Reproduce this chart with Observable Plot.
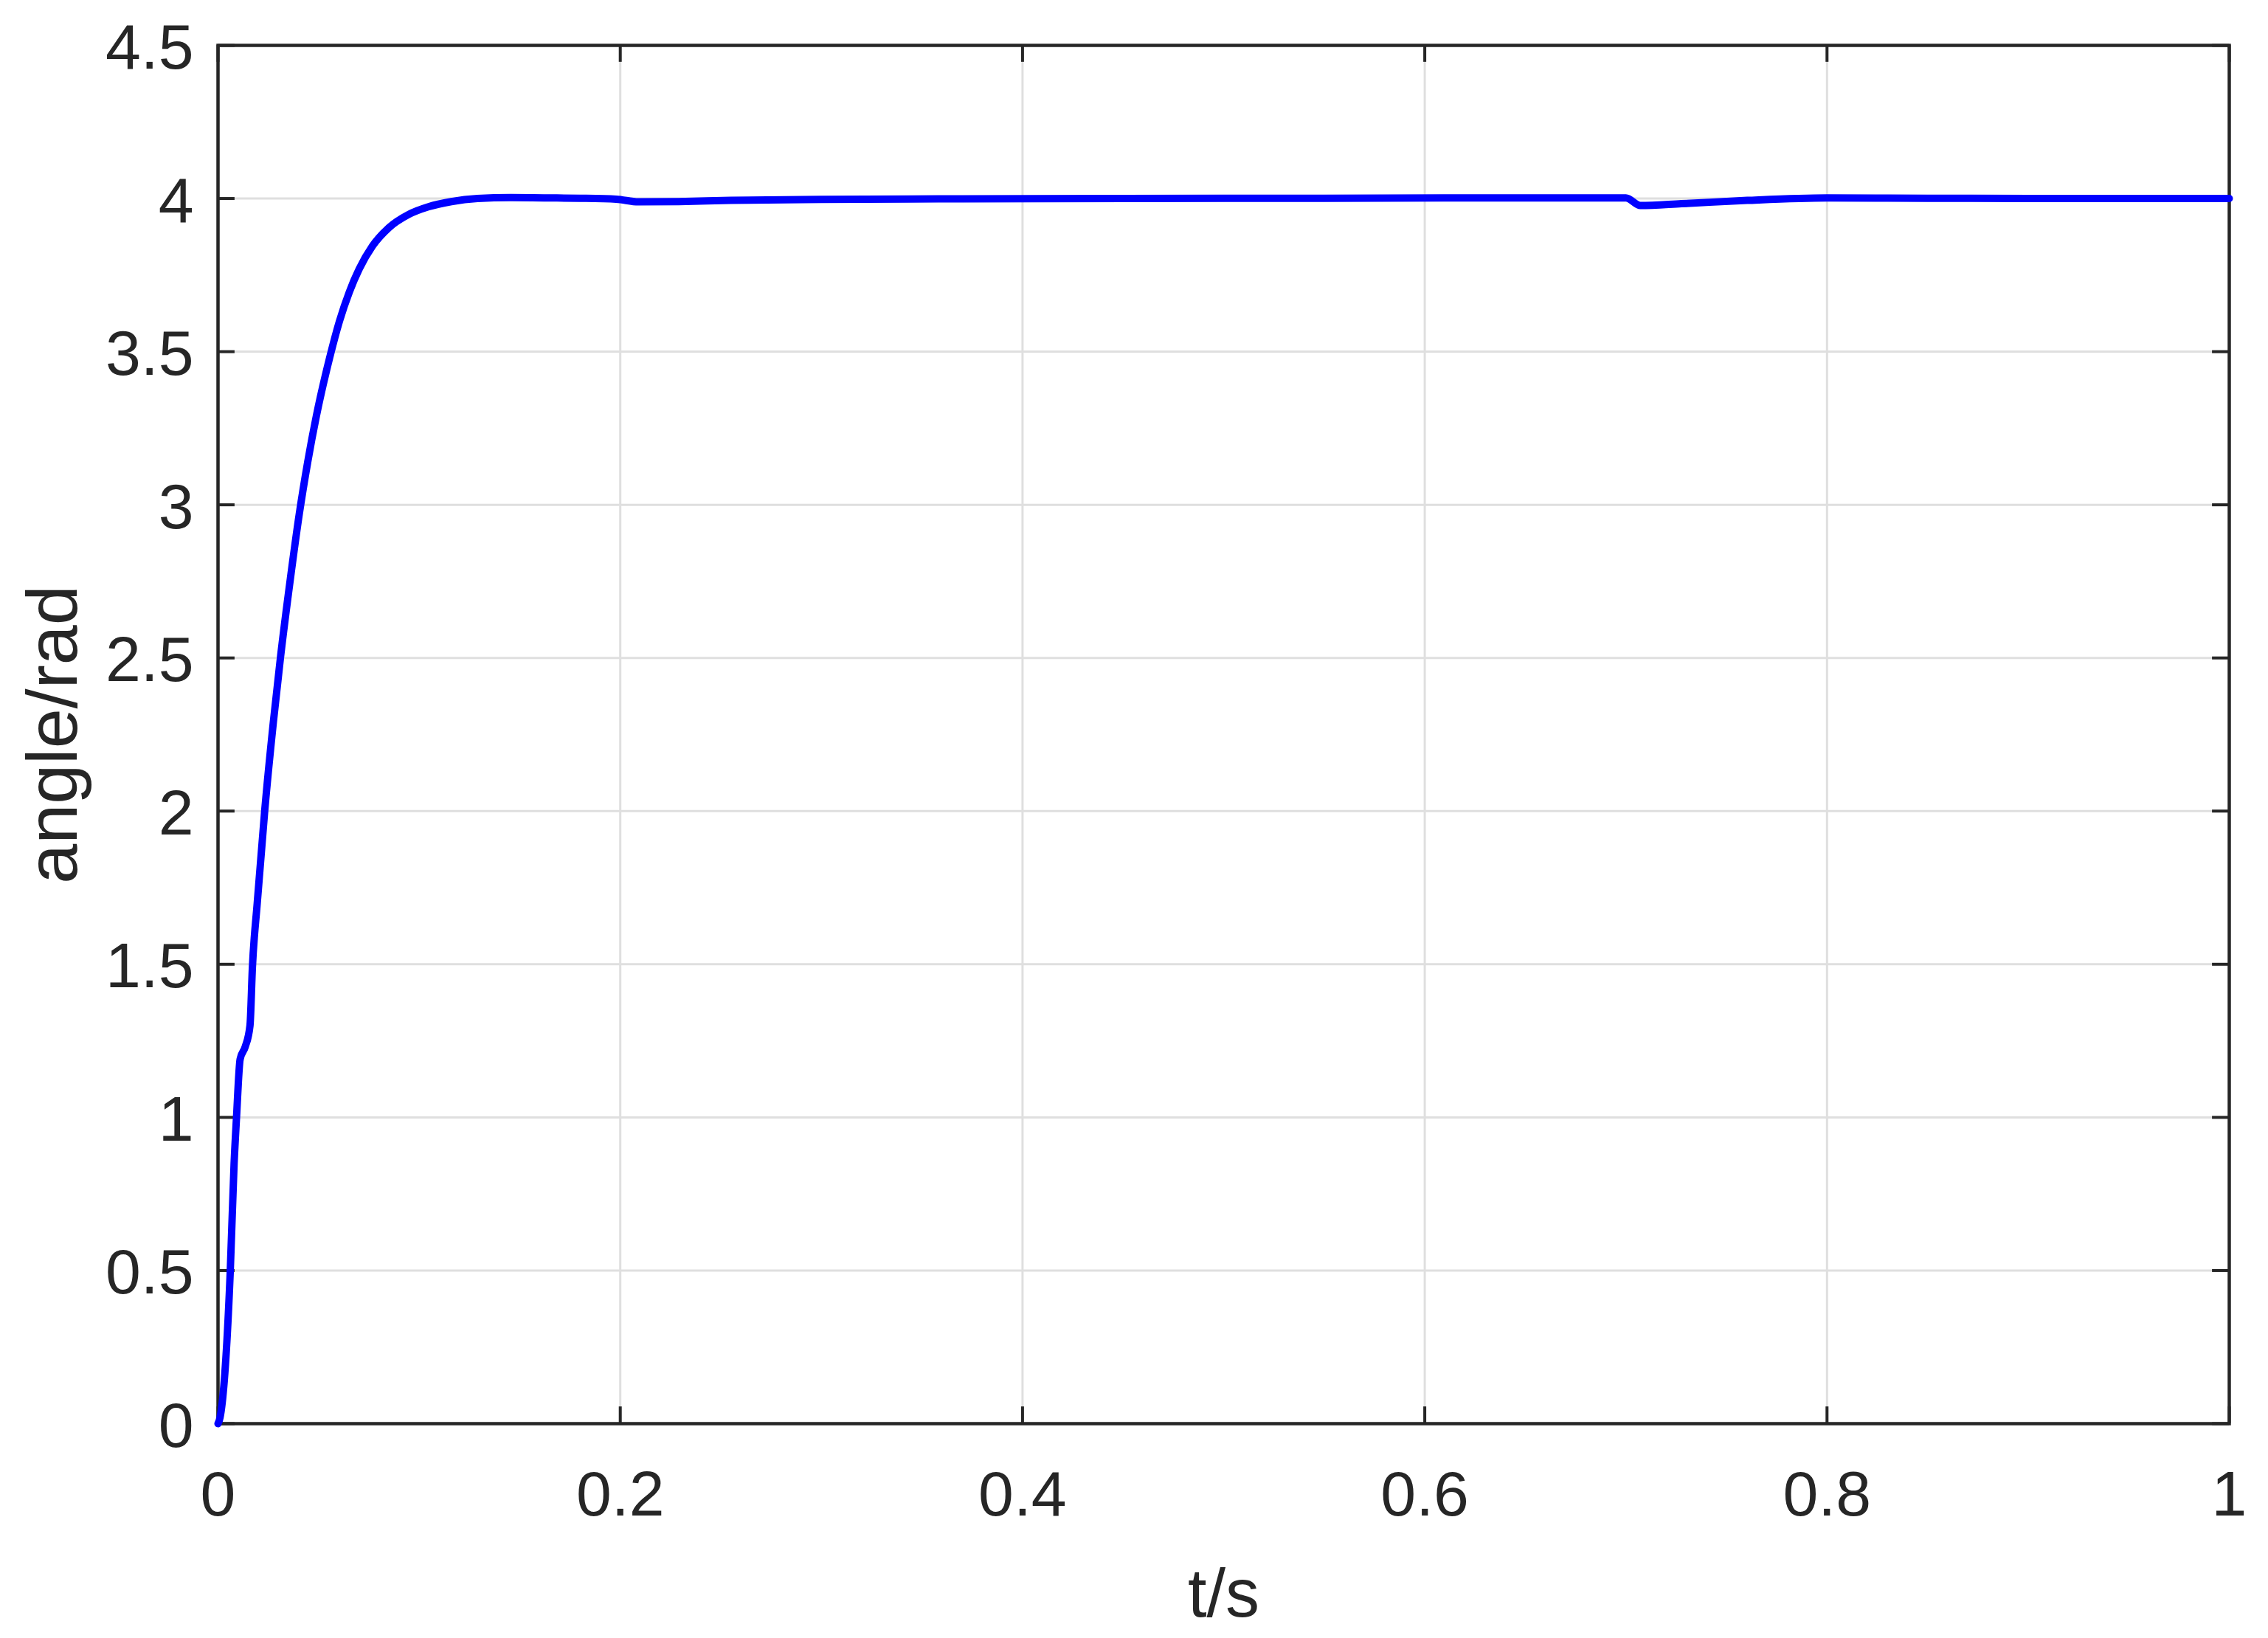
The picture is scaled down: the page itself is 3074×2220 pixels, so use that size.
<!DOCTYPE html>
<html><head><meta charset="utf-8">
<script src="https://cdn.jsdelivr.net/npm/d3@7"></script>
<script src="https://cdn.jsdelivr.net/npm/@observablehq/plot@0.6"></script>
<style>html,body{margin:0;padding:0;background:#fff;} svg{display:block}</style>
</head><body><div id="chart"></div>
<script>
const timeS = [0, 0.001, 0.0061, 0.008, 0.0092, 0.011, 0.0135, 0.0159, 0.0171, 0.0195, 0.0232, 0.0275, 0.0312, 0.036, 0.0404, 0.0446, 0.0489, 0.0555, 0.0604, 0.0653, 0.0702, 0.0768, 0.085, 0.0948, 0.1046, 0.116, 0.129, 0.1456, 0.162, 0.18, 0.198, 0.209, 0.229, 0.255, 0.30, 0.37, 0.45, 0.55, 0.65, 0.70, 0.7072, 0.7277, 0.7604, 0.80, 0.85, 0.90, 1.0];
const angleRad = [0, 0.02, 0.5, 0.85, 1.0, 1.19, 1.23, 1.30, 1.49, 1.70, 2.0, 2.29, 2.51, 2.76, 2.97, 3.14, 3.29, 3.48, 3.60, 3.695, 3.77, 3.845, 3.905, 3.948, 3.973, 3.99, 4.0, 4.003, 4.002, 4.001, 3.998, 3.989, 3.99, 3.994, 3.997, 3.999, 4.0, 4.001, 4.002, 4.002, 3.977, 3.983, 3.994, 4.002, 4.001, 4.0, 4.0];
const xTicks = [0, 0.2, 0.4, 0.6, 0.8, 1];
const yTicks = [0, 0.5, 1, 1.5, 2, 2.5, 3, 3.5, 4, 4.5];
const xLabel = "t/s";
const yLabel = "angle/rad";

const data = timeS.map((t, i) => ({t, v: angleRad[i]}));
const axisColor = "#262626";
const gridColor = "#dfdfdf";

const chart = Plot.plot({
  width: 3074, height: 2220,
  marginLeft: 295, marginRight: 53, marginTop: 61, marginBottom: 291,
  style: {fontFamily: "'Liberation Sans', Arial, sans-serif", color: axisColor, background: "#fff"},
  x: {domain: [0, 1]},
  y: {domain: [0, 4.5]},
  marks: [
    Plot.ruleX(xTicks, {stroke: gridColor, strokeWidth: 3}),
    Plot.ruleY(yTicks, {stroke: gridColor, strokeWidth: 3}),
    Plot.ruleX(xTicks, {x: d => d, y1: 0, y2: 0.055, stroke: axisColor, strokeWidth: 4}),
    Plot.ruleX(xTicks, {x: d => d, y1: 4.5, y2: 4.445, stroke: axisColor, strokeWidth: 4}),
    Plot.ruleY(yTicks, {y: d => d, x1: 0, x2: 0.0084, stroke: axisColor, strokeWidth: 4}),
    Plot.ruleY(yTicks, {y: d => d, x1: 1, x2: 0.9916, stroke: axisColor, strokeWidth: 4}),
    Plot.frame({stroke: axisColor, strokeWidth: 4.5}),
    Plot.axisX({ticks: xTicks, tickSize: 0, tickPadding: 63, fontSize: 86, label: null, tickFormat: d => String(d)}),
    Plot.axisY({ticks: yTicks, tickSize: 0, tickPadding: 33, fontSize: 86, label: null, dy: 4, tickFormat: d => String(d)}),
    Plot.text([xLabel], {text: d => d, frameAnchor: "bottom", lineAnchor: "bottom", dy: 261, fontSize: 92, fill: axisColor}),
    Plot.text([yLabel], {text: d => d, frameAnchor: "left", textAnchor: "middle", lineAnchor: "bottom", rotate: -90, dx: -192, fontSize: 97, fill: axisColor}),
    Plot.line(data, {x: "t", y: "v", stroke: "#0000ff", strokeWidth: 10, curve: "monotone-x"})
  ]
});
document.getElementById("chart").appendChild(chart);
</script>
</body></html>
